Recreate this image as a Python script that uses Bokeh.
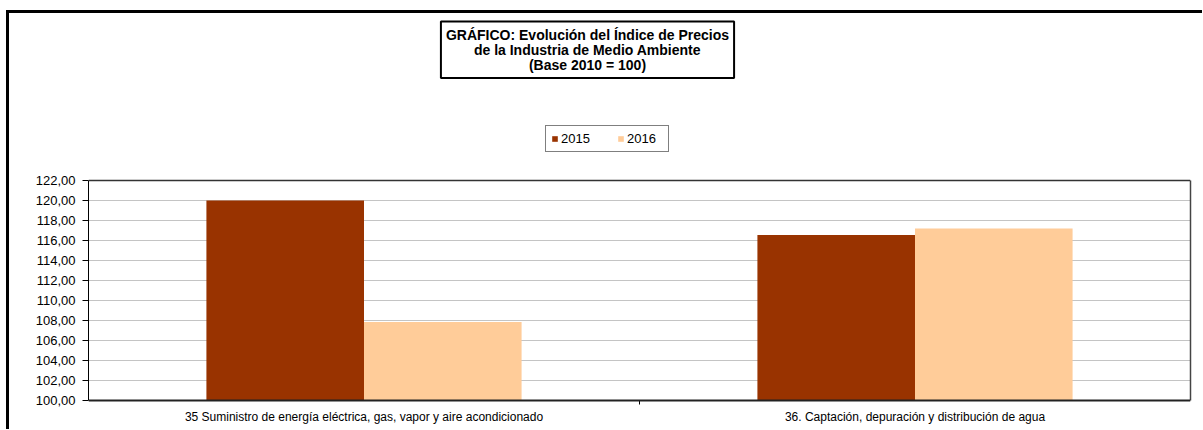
from bokeh.plotting import figure
from bokeh.models import (ColumnDataSource, FactorRange, Range1d, FixedTicker,
                          Legend, LegendItem, LinearAxis, Label, Span)
from bokeh.transform import dodge
from bokeh.embed import file_html
from bokeh.resources import INLINE

categories = [
    "35 Suministro de energía eléctrica, gas, vapor y aire acondicionado",
    "36. Captación, depuración y distribución de agua",
]
years = ["2015", "2016"]
v2015 = [120.00, 116.55]
v2016 = [107.85, 117.20]
y_ticks = [100, 102, 104, 106, 108, 110, 112, 114, 116, 118, 120, 122]
title_lines = [
    "GRÁFICO: Evolución del Índice de Precios",
    "de la Industria de Medio Ambiente",
    "(Base 2010 = 100)",
]
colors = ["#993300", "#FFCC99"]
FONT = "Liberation Sans"

src = ColumnDataSource(dict(cat=categories, y2015=v2015, y2016=v2016))
bounds_src = ColumnDataSource(dict(b=list(range(1, len(categories)))))

y0, y1 = y_ticks[0], y_ticks[-1]
# the frame also holds the title and legend area above the plot area
p = figure(
    x_range=FactorRange(*categories, range_padding=0),
    y_range=Range1d(y0 - 0.5, y1 + 16.7),
    frame_width=1102, frame_height=392,
    min_border_left=79, min_border_right=12, min_border_top=0, min_border_bottom=24,
    output_backend="svg", toolbar_location=None,
    background_fill_color="white", border_fill_color="white",
)
p.styles = {"margin-left": "6px", "margin-top": "10px",
            "border-top": "3px solid black", "border-left": "3px solid black"}
p.outline_line_color = None

bw = 0.286
r1 = p.vbar(x=dodge("cat", -bw / 2, range=p.x_range), top="y2015", bottom=y0,
            width=bw, source=src, fill_color=colors[0], line_color=None)
r2 = p.vbar(x=dodge("cat", bw / 2, range=p.x_range), top="y2016", bottom=y0,
            width=bw, source=src, fill_color=colors[1], line_color=None)

# y axis (left)
yax = p.yaxis[0]
yax.ticker = FixedTicker(ticks=y_ticks, minor_ticks=[])
yax.bounds = (y0, y1)
yax.major_label_overrides = {t: f"{t:.2f}".replace(".", ",") for t in y_ticks}
yax.major_label_text_font = FONT
yax.major_label_text_font_size = "13px"
yax.major_label_text_color = "black"
yax.major_tick_out = 6
yax.major_tick_in = 0
yax.axis_line_color = "black"
yax.major_tick_line_color = "black"
yax.major_label_standoff = 7

p.ygrid.ticker = FixedTicker(ticks=y_ticks[1:-1], minor_ticks=[])
p.ygrid.grid_line_color = "#c4c4c4"
p.ygrid.grid_line_width = 1
p.xgrid.grid_line_color = None

# plot-area border: right edge, top edge and bottom edge
rax = LinearAxis(ticker=FixedTicker(ticks=[], minor_ticks=[]), bounds=(y0, y1),
                 axis_line_color="#444444", axis_line_width=1.5)
p.add_layout(rax, "right")
p.add_layout(Span(location=y1, dimension="width", line_color="#333333", line_width=1.5))
p.add_layout(Span(location=y0, dimension="width", line_color="#222222", line_width=2))
# small tick between categories
p.segment(x0="b", y0=y0, x1="b", y1=y0 - 0.4, source=bounds_src,
          line_color="black", line_width=1)

# category axis
cax = p.xaxis[0]
cax.major_label_text_font = FONT
cax.major_label_text_font_size = "12px"
cax.major_label_text_color = "black"
cax.major_tick_line_color = None
cax.major_tick_out = 0
cax.axis_line_color = None
cax.major_label_standoff = 4

# title box (screen units relative to the frame)
p.add_layout(Label(
    x=499, y=384, x_units="screen", y_units="screen",
    text="\n".join(title_lines), text_font=FONT, text_font_style="bold",
    text_font_size="14px", text_align="center", text_baseline="top",
    text_line_height=0.95, text_color="black",
    border_line_color="black", border_line_width=2,
    background_fill_color="white", padding=5,
))

legend = Legend(
    items=[LegendItem(label=years[0], renderers=[r1]),
           LegendItem(label=years[1], renderers=[r2])],
    orientation="horizontal", location=(457, 253), margin=0, padding=5,
    spacing=20, label_width=36, glyph_width=7, glyph_height=7, label_standoff=3,
    border_line_color="black", border_line_width=1, background_fill_color="white",
    label_text_font=FONT, label_text_font_size="13px", label_text_color="black",
)
p.add_layout(legend, "center")

open("out.html", "w").write(file_html(p, INLINE))
